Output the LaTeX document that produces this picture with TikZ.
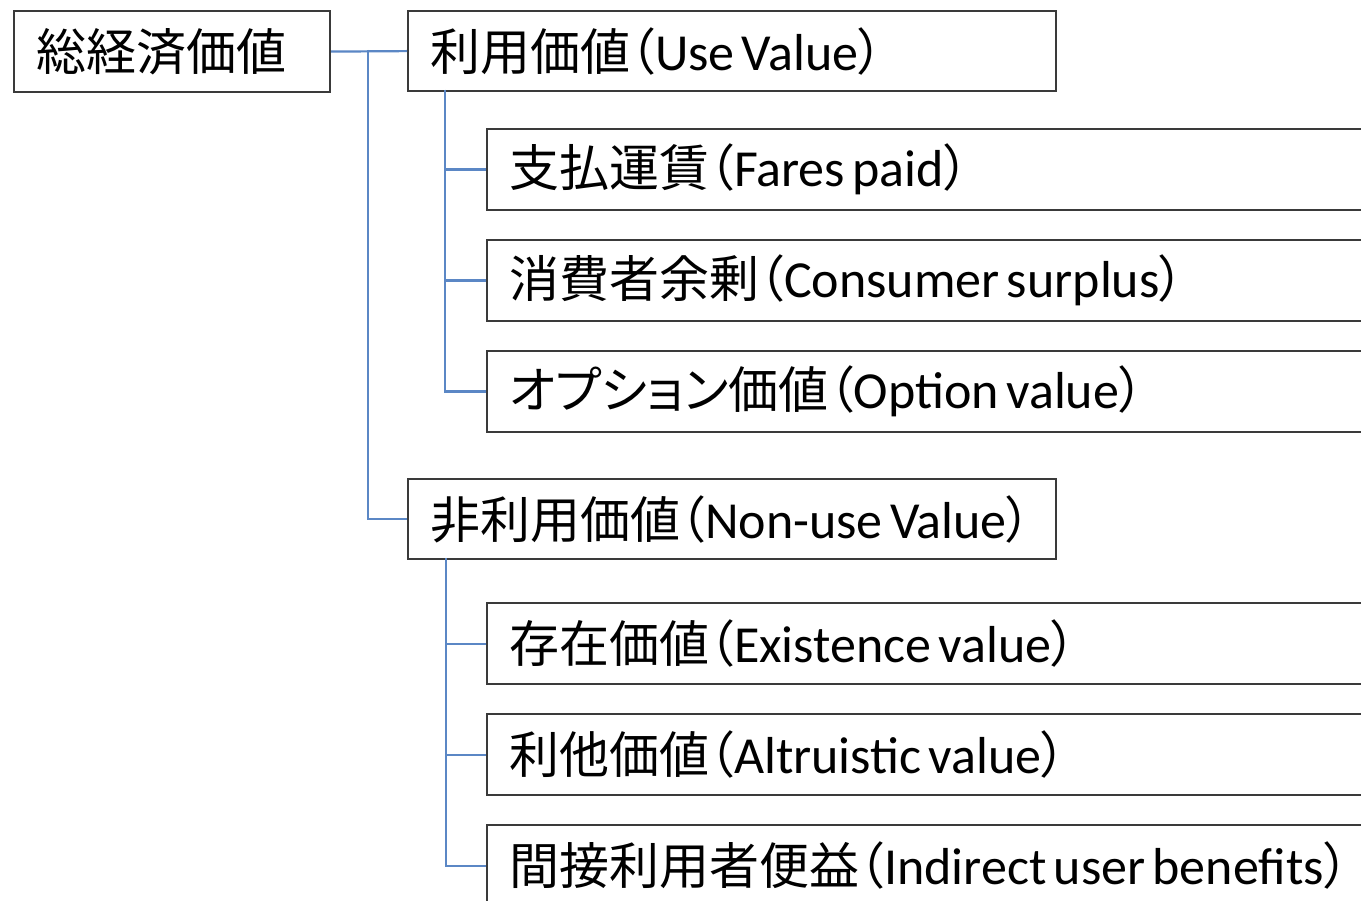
\documentclass[tikz,border=0pt]{standalone}
\usepackage{fontspec}
\setmainfont{Carlito}
\newfontfamily\cjk{Noto Sans CJK JP}[RawFeature=+palt]
\definecolor{conn}{HTML}{5B87C5}
\definecolor{boxline}{HTML}{3A3A3A}
\tikzset{
  bx/.style={draw=boxline, line width=2.2pt, anchor=north west, rectangle,
    minimum height=81pt, inner xsep=22pt, inner ysep=0pt, align=left,
    font=\fontsize{50}{56}\selectfont},
  conline/.style={draw=conn, line width=2.2pt}
}
\newcommand{\jp}[1]{{\cjk #1}}
\newcommand{\lbl}[2]{\mbox{\jp{#1（}{\fontsize{52}{56}\selectfont\spaceskip=0.14em\relax #2}\jp{）}}}
\begin{document}
\begin{tikzpicture}[x=1pt,y=-1pt]
\useasboundingbox (0,0) rectangle (1361,901);
\clip (0,0) rectangle (1361,901);
\fill[white] (0,0) rectangle (1361,901);
\node[bx, text width=272pt] (root) at (13,10) {\jp{総経済価値}};
\node[bx, text width=604pt, minimum height=80pt] (use) at (407,10) {\lbl{利用価値}{Use Value}};
\node[bx, text width=900pt] (fp) at (486,128) {\lbl{支払運賃}{Fares paid}};
\node[bx, text width=900pt] (cs) at (486,239) {\lbl{消費者余剰}{Consumer surplus}};
\node[bx, text width=900pt] (ov) at (486,350) {\lbl{オプション価値}{Option value}};
\node[bx, text width=604pt, minimum height=80pt] (nonuse) at (407,478) {\lbl{非利用価値}{Non-use Value}};
\node[bx, text width=900pt] (ex) at (486,602) {\lbl{存在価値}{Existence value}};
\node[bx, text width=900pt] (al) at (486,713) {\lbl{利他価値}{Altruistic value}};
\node[bx, text width=900pt] (ib) at (486,824) {\lbl{間接利用者便益}{Indirect user benefits}};
\coordinate (j) at (368,50);
\coordinate (u) at (445,90);
\coordinate (n) at (446,558);
\draw[conline] (root.east) -- (use.west);
\draw[conline] (j) |- (nonuse.west);
\draw[conline] (u) |- (fp.west);
\draw[conline] (u) |- (cs.west);
\draw[conline] (u) |- (ov.west);
\draw[conline] (n) |- (ex.west);
\draw[conline] (n) |- (al.west);
\draw[conline] (n) |- (ib.west);
\end{tikzpicture}
\end{document}
